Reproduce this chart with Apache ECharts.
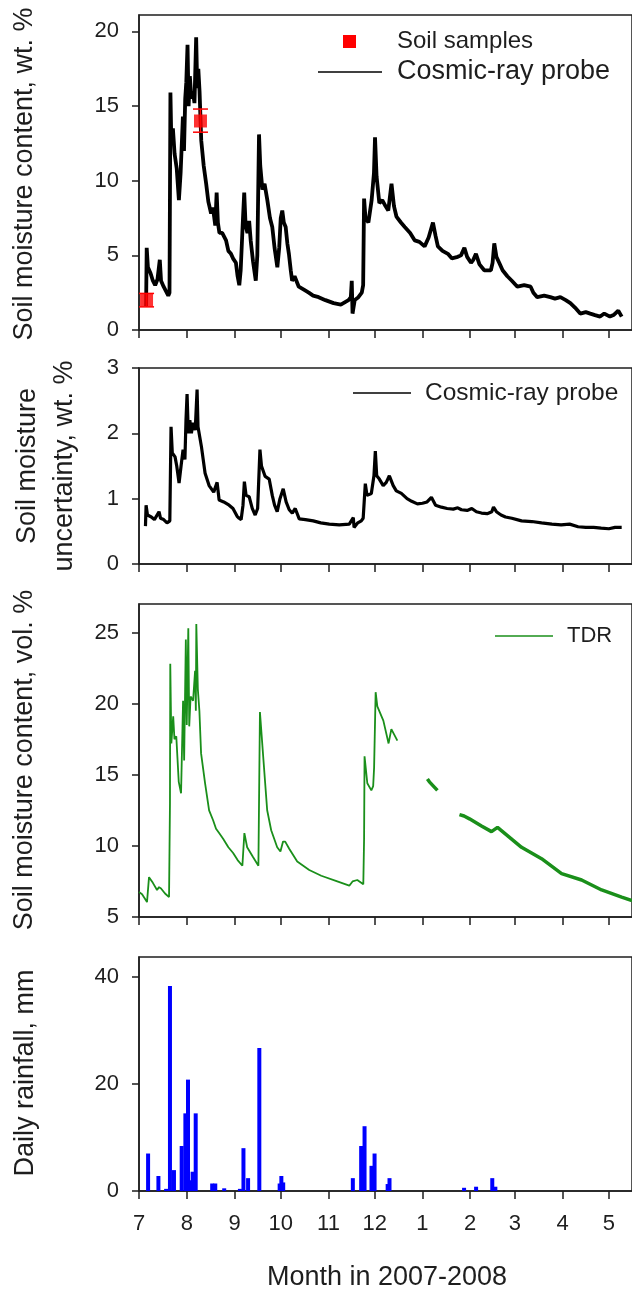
<!DOCTYPE html>
<html><head><meta charset="utf-8">
<script src="https://cdn.jsdelivr.net/npm/echarts@6.0.0/dist/echarts.min.js"></script>
<style>html,body{margin:0;padding:0;background:#fff}#c{width:632px;height:1292px}</style>
</head><body><div id="c"></div>
<script>
// x values are days since 1 July 2007
const monthTickDays = [0, 31, 62, 92, 123, 153, 184, 215, 244, 275, 305];
const monthLabels = ['7', '8', '9', '10', '11', '12', '1', '2', '3', '4', '5'];

// Panel 1: cosmic-ray probe soil moisture (wt. %)
const cosmicDays = [4.6,5.0,5.8,7.5,9,10.5,12,13.5,14.3,16,17.5,19,19.8,20.4,21.0,22,23.1,24.5,25.9,27,28.5,29.2,30.0,30.7,31.5,32.2,33.0,34,35.0,36,37.1,37.8,38.5,39.3,40.4,42,43.6,45,46.8,48,49.5,50.4,51.2,52.2,54,56.5,58,59.7,61,62.9,64,65.1,66,67.5,68.3,69.2,70.4,71.5,72.5,74,75.8,76.8,77.9,78.7,80.1,81.5,83.3,85,86.5,88,89.8,91,92,93.0,94,95.2,96.3,97.3,98.5,99.4,101,103.7,107,110.2,113,116.6,121,126.3,131,136,137.5,138.1,138.6,140,142.4,144.6,145.5,146.1,147,148.9,151,152.5,153.2,154.2,156,157.9,160,161.8,163.9,165.5,167.1,170,172.5,176,179.0,182,185.4,188,190.8,192.5,194.0,197,200.5,203,206.9,209,211.2,213,215.5,217,218.7,221,224.1,228.4,229.5,230.6,232,233.8,236,239.1,242,245.6,250,254.2,256,258.5,263,267.0,270,273.5,277,280.0,283,286.4,290,292.9,296,299.3,302,305.7,308,311.1,313.3];
const cosmicMoisture = [1.6,5.5,4.2,3.8,3.3,3.0,3.4,4.7,3.3,2.9,2.6,2.3,2.5,15.9,12.5,13.5,11.8,10.8,8.7,10.5,14.3,12.0,15.5,16.6,19.1,15.0,17.0,15.5,16.0,15.2,19.6,16.2,17.5,16.0,12.7,11.0,9.8,8.6,7.8,8.2,7.0,9.2,7.2,6.5,6.5,6.0,5.3,5.1,4.8,4.5,3.6,3.0,4.0,7.5,9.2,7.0,6.5,7.3,6.0,4.6,3.3,5.0,13.1,11.0,9.4,9.8,8.7,7.5,6.9,5.5,4.2,5.5,7.5,8.0,7.2,6.9,5.8,5.1,4.0,3.3,3.6,2.9,2.7,2.5,2.3,2.2,2.0,1.8,1.7,2.0,2.2,3.3,1.1,2.0,2.2,2.5,3.0,8.8,7.5,7.2,8.7,10.5,12.9,10.3,8.5,8.7,8.3,8.0,9.8,8.3,7.6,7.2,6.9,6.5,6.0,5.9,5.6,6.2,7.2,6.3,5.6,5.3,5.1,4.8,4.9,5.0,5.5,4.9,4.5,4.7,5.1,4.4,4.0,4.0,4.5,5.8,4.9,4.5,4.0,3.6,3.3,2.9,3.0,2.9,2.5,2.2,2.3,2.2,2.1,2.2,2.0,1.8,1.5,1.1,1.2,1.1,1.0,0.9,1.1,0.9,1.0,1.3,0.9];

// Panel 1: soil samples with error range
const sampleDays = [4.9, 39.9];
const sampleValues = [2.0, 14.0];
const sampleLow = [1.55, 13.25];
const sampleHigh = [2.45, 14.8];

// Panel 2: cosmic-ray probe uncertainty (wt. %)
const uncertDays = [4.2,4.6,5.5,8,10,13.0,14,16,18.2,20.0,20.8,21.6,23.4,24.5,26.0,27.3,28.6,29.8,30.5,31.2,32,33,34,35.1,36.5,37.7,38.3,39.0,40.5,42.9,45.5,47,48.5,50.7,52.0,55,58.5,61,63.7,65,66.3,67.5,68.4,69.5,71.5,73.5,75.4,77,78.5,79.5,81.9,84.5,86.5,88,89.7,91.5,93.6,95.5,97.5,99.5,101.4,104.0,108,113.1,118,123.5,130,136.5,139.1,139.6,142,144.3,145.5,146.9,148,150.8,152.5,153.4,154.3,156.0,158.5,160.5,162.5,165,167,170.3,174,177,180.7,184,187,189.8,192.5,196.3,200,204,206.9,209.3,213,216,219,222.3,226,229,230.1,232,235,237.9,242,248.3,255,261.3,268,274,279.5,285,290,295.1,300,305,309,313.3];
const uncertValues = [0.58,0.9,0.75,0.72,0.68,0.8,0.7,0.68,0.63,0.66,2.1,1.7,1.64,1.5,1.24,1.5,1.75,1.6,2.2,2.6,2.0,2.2,2.0,2.16,2.05,2.67,2.1,2.1,1.8,1.39,1.2,1.15,1.1,1.25,0.98,0.95,0.9,0.85,0.73,0.7,0.68,0.9,1.26,1.05,1.03,0.85,0.75,0.85,1.75,1.5,1.34,1.3,1.05,0.9,0.8,1.0,1.15,0.95,0.83,0.78,0.85,0.69,0.68,0.66,0.63,0.61,0.6,0.61,0.71,0.56,0.63,0.66,0.7,1.23,1.05,1.08,1.35,1.73,1.35,1.3,1.2,1.25,1.35,1.2,1.12,1.08,1.0,0.96,0.92,0.93,0.95,1.02,0.9,0.87,0.85,0.84,0.86,0.83,0.82,0.85,0.8,0.78,0.77,0.8,0.87,0.8,0.75,0.72,0.7,0.66,0.65,0.63,0.61,0.6,0.61,0.57,0.56,0.56,0.55,0.54,0.56,0.56];

// Panel 3: TDR soil moisture (vol. %), null = missing record
const tdrDays = [0.0,2,5.2,6.5,9,11.7,13,14.3,16.9,19.5,20.1,20.3,21.0,22.2,23.0,24.2,25.8,27.3,28.6,29.3,29.9,30.4,31.0,32.0,32.6,33.5,35.1,36.4,36.9,37.2,38.2,39.2,40.3,42.9,45.5,48.1,50,52.0,54.6,58,61.1,64,67.1,68.4,70.2,74.1,77.5,78.5,80.6,83.2,85.8,89.7,91.8,93.5,94.9,97.5,102.7,110.5,118.3,128.7,136.5,138.6,141.7,145.6,146.1,146.4,148.2,150.8,152,152.6,153.6,154.7,158.6,162.0,163.8,165,167.7,177,187.2,188.5,193.7,200,208.0,211,214.5,222.3,228.8,232.7,240.5,248.3,261.3,274.3,287.3,300.3,313.3,320];
const tdrValues = [6.76,6.6,6.05,7.8,7.4,6.9,7.1,7.0,6.65,6.4,13,22.8,17.2,19.1,17.5,17.7,14.5,13.7,20.2,16.0,16.0,24.5,18.5,25.3,18.4,20.5,20.2,22.3,19.5,25.6,21.0,19.5,16.5,14.4,12.5,11.8,11.2,10.9,10.5,9.9,9.5,9.0,8.6,10.9,9.9,9.2,8.6,19.4,16.3,12.5,11.1,9.9,9.6,10.3,10.3,9.8,8.9,8.3,7.9,7.5,7.2,7.5,7.6,7.3,10.5,16.3,14.4,13.9,14.2,15.5,20.8,19.8,18.8,17.2,18.2,18.2,17.4,null,14.7,14.5,13.9,null,12.2,12.1,11.9,11.4,11.0,11.3,10.6,9.9,9.1,8.05,7.6,6.9,6.4,6.15];

// Panel 4: daily rainfall (mm)
const rainDays = [5.9,12.6,17.6,20.1,22.7,27.7,30.1,31.8,33.6,34.8,36.8,47.5,49.5,55.3,65.5,67.8,70.8,78.1,91.3,92.4,93.6,138.8,144.2,146.4,150.9,152.9,161.4,162.6,211,218.8,229.3,231.3];
const rainValues = [7.0,2.8,0.4,38.3,3.9,8.4,14.5,20.8,2.0,3.6,14.5,1.4,1.4,0.5,0.4,8.0,2.4,26.7,1.4,2.8,1.6,2.4,8.4,12.1,4.7,7.0,1.3,2.4,0.6,0.8,2.4,0.8];

const FONT = '"Liberation Sans", Arial, sans-serif';
const INK = '#1e1e1e';
const GREEN = '#1a8f1a';

const grids = [
  { left: 139, top: 15, width: 496, height: 315 },
  { left: 139, top: 368, width: 496, height: 196 },
  { left: 139, top: 604, width: 496, height: 313 },
  { left: 139, top: 957, width: 496, height: 234 }
].map(g => Object.assign({ show: true, borderColor: INK, borderWidth: 1.5, backgroundColor: 'transparent' }, g));

function makeX(i, labels) {
  return {
    type: 'value', gridIndex: i, min: 0, max: 320,
    axisLine: { show: true, lineStyle: { color: INK, width: 1.5 } },
    axisTick: { show: true, length: 8, customValues: monthTickDays, lineStyle: { color: INK, width: 1.5 } },
    axisLabel: {
      show: labels, customValues: monthTickDays, margin: 22,
      fontFamily: FONT, fontSize: 22, color: INK,
      formatter: v => monthLabels[monthTickDays.indexOf(v)]
    },
    splitLine: { show: false }
  };
}
function makeY(i, min, max, ticks) {
  return {
    type: 'value', gridIndex: i, min: min, max: max,
    axisLine: { show: true, lineStyle: { color: INK, width: 1.5 } },
    axisTick: { show: true, length: 7, customValues: ticks, lineStyle: { color: INK, width: 1.5 } },
    axisLabel: { customValues: ticks, margin: 20, fontFamily: FONT, fontSize: 22, color: INK },
    splitLine: { show: false }
  };
}

const pairs = (xs, ys) => xs.map((x, i) => [x, ys[i]]);
// TDR record: sparse early part drawn thin, dense part after the data gap drawn heavier
const TDR_SPLIT = 177;
const tdrEarly = pairs(tdrDays, tdrValues).filter(p => p[0] <= TDR_SPLIT);
const tdrLate = pairs(tdrDays, tdrValues).filter(p => p[0] >= TDR_SPLIT);

function text(str, x, y, size, opts) {
  return Object.assign({
    type: 'text', x: x, y: y, silent: true,
    style: { text: str, fontFamily: FONT, fontSize: size, fill: INK, textAlign: 'center', textVerticalAlign: 'middle' }
  }, opts || {});
}
function vtext(str, x, y) {
  return text(str, x, y, 27, { rotation: Math.PI / 2 });
}
function hline(x1, x2, y, color) {
  return { type: 'line', silent: true, shape: { x1: x1, y1: y, x2: x2, y2: y }, style: { stroke: color, lineWidth: 1.5 } };
}
function ltext(str, x, y, size) {
  const t = text(str, x, y, size);
  t.style.textAlign = 'left';
  return t;
}

const chart = echarts.init(document.getElementById('c'), null, { renderer: 'canvas' });
chart.setOption({
  animation: false,
  backgroundColor: '#fff',
  grid: grids,
  xAxis: [makeX(0, false), makeX(1, false), makeX(2, false), makeX(3, true)],
  yAxis: [
    makeY(0, 0, 21.1, [0, 5, 10, 15, 20]),
    makeY(1, 0, 3, [0, 1, 2, 3]),
    makeY(2, 5, 27, [5, 10, 15, 20, 25]),
    makeY(3, 0, 43.7, [0, 20, 40])
  ],
  series: [
    {
      name: 'Cosmic-ray probe', type: 'line', xAxisIndex: 0, yAxisIndex: 0,
      data: pairs(cosmicDays, cosmicMoisture), symbol: 'none',
      lineStyle: { color: '#000', width: 3.8, join: 'bevel' }, z: 2
    },
    {
      name: 'Soil samples error', type: 'custom', xAxisIndex: 0, yAxisIndex: 0, z: 3,
      data: sampleDays.map((d, i) => [d, sampleLow[i], sampleHigh[i]]),
      encode: { x: 0, y: [1, 2] },
      renderItem: (params, api) => {
        const x = api.value(0);
        const p1 = api.coord([x, api.value(1)]);
        const p2 = api.coord([x, api.value(2)]);
        const w = 7.5;
        const st = { stroke: '#ff0000', lineWidth: 1.5 };
        return {
          type: 'group', children: [
            { type: 'line', shape: { x1: p1[0], y1: p1[1], x2: p2[0], y2: p2[1] }, style: st },
            { type: 'line', shape: { x1: p1[0] - w, y1: p1[1], x2: p1[0] + w, y2: p1[1] }, style: st },
            { type: 'line', shape: { x1: p2[0] - w, y1: p2[1], x2: p2[0] + w, y2: p2[1] }, style: st }
          ]
        };
      }
    },
    {
      name: 'Soil samples', type: 'scatter', xAxisIndex: 0, yAxisIndex: 0, z: 4,
      data: pairs(sampleDays, sampleValues), symbol: 'rect', symbolSize: 13,
      itemStyle: { color: '#ff0000' }
    },
    {
      name: 'Uncertainty', type: 'line', xAxisIndex: 1, yAxisIndex: 1,
      data: pairs(uncertDays, uncertValues), symbol: 'none',
      lineStyle: { color: '#000', width: 3.2, join: 'bevel' }
    },
    {
      name: 'TDR', type: 'line', xAxisIndex: 2, yAxisIndex: 2,
      data: tdrEarly, symbol: 'none', connectNulls: false,
      lineStyle: { color: GREEN, width: 1.8 }
    },
    {
      name: 'TDR late', type: 'line', xAxisIndex: 2, yAxisIndex: 2,
      data: tdrLate, symbol: 'none', connectNulls: false,
      lineStyle: { color: GREEN, width: 3.5 }
    },
    {
      name: 'Rainfall', type: 'bar', xAxisIndex: 3, yAxisIndex: 3,
      data: pairs(rainDays, rainValues), barWidth: 4,
      itemStyle: { color: '#0000ff' }
    }
  ],
  graphic: [
    vtext('Soil moisture content, wt. %', 25, 174),
    vtext('Soil moisture', 28, 466),
    vtext('uncertainty, wt. %', 65, 466),
    vtext('Soil moisture content, vol. %', 25, 760),
    vtext('Daily rainfall, mm', 26, 1073),
    text('Month in 2007-2008', 387, 1278, 27),
    { type: 'rect', silent: true, shape: { x: 343, y: 35, width: 13, height: 13 }, style: { fill: '#ff0000' } },
    ltext('Soil samples', 397, 41, 24),
    hline(318, 382, 72, '#000'),
    ltext('Cosmic-ray probe', 397, 72, 27),
    hline(353, 411, 393, '#000'),
    ltext('Cosmic-ray probe', 425, 393, 24.5),
    hline(495, 553, 636, GREEN),
    ltext('TDR', 567, 636, 22)
  ]
});
</script>
</body></html>
